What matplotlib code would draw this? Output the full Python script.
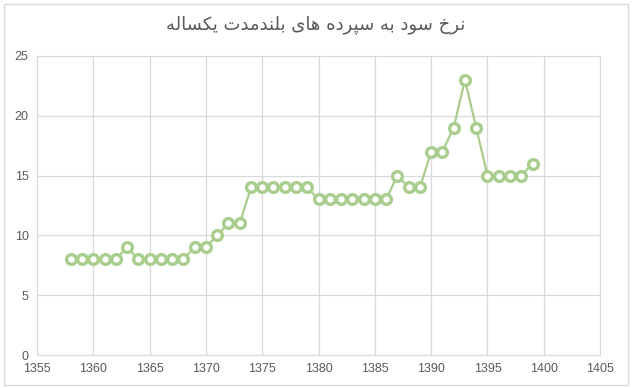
import matplotlib
matplotlib.use("Agg")
import matplotlib.pyplot as plt
from matplotlib.patches import Rectangle

years = list(range(1358, 1400))
rates = [8, 8, 8, 8, 8, 9, 8, 8, 8, 8, 8, 9, 9, 10, 11, 11, 14, 14, 14, 14,
         14, 14, 13, 13, 13, 13, 13, 13, 13, 15, 14, 14, 17, 17, 19, 23, 19,
         15, 15, 15, 15, 16]
x_ticks = list(range(1355, 1406, 5))
y_ticks = list(range(0, 26, 5))
title = "نرخ سود به سپرده های بلندمدت یکساله"

# arabic presentation forms: isolated, final, initial, medial
FORMS = {
    'ن': ('\uFEE5', '\uFEE6', '\uFEE7', '\uFEE8'),
    'ر': ('\uFEAD', '\uFEAE'),
    'خ': ('\uFEA5', '\uFEA6', '\uFEA7', '\uFEA8'),
    'س': ('\uFEB1', '\uFEB2', '\uFEB3', '\uFEB4'),
    'و': ('\uFEED', '\uFEEE'),
    'د': ('\uFEA9', '\uFEAA'),
    'ب': ('\uFE8F', '\uFE90', '\uFE91', '\uFE92'),
    'ه': ('\uFEE9', '\uFEEA', '\uFEEB', '\uFEEC'),
    'پ': ('\uFB56', '\uFB57', '\uFB58', '\uFB59'),
    'ا': ('\uFE8D', '\uFE8E'),
    'ی': ('\uFBFC', '\uFBFD', '\uFBFE', '\uFBFF'),
    'ل': ('\uFEDD', '\uFEDE', '\uFEDF', '\uFEE0'),
    'م': ('\uFEE1', '\uFEE2', '\uFEE3', '\uFEE4'),
    'ت': ('\uFE95', '\uFE96', '\uFE97', '\uFE98'),
    'ک': ('\uFB8E', '\uFB8F', '\uFB90', '\uFB91'),
}


def shape(text):
    out = []
    for i, ch in enumerate(text):
        if ch not in FORMS:
            out.append(ch)
            continue
        prev = text[i - 1] if i > 0 else ' '
        nxt = text[i + 1] if i + 1 < len(text) else ' '
        joins_prev = prev in FORMS and len(FORMS[prev]) == 4
        joins_next = len(FORMS[ch]) == 4 and nxt in FORMS
        f = FORMS[ch]
        if joins_prev and joins_next:
            out.append(f[3])
        elif joins_prev:
            out.append(f[1])
        elif joins_next:
            out.append(f[2])
        else:
            out.append(f[0])
    return ''.join(out)[::-1]


fig = plt.figure(figsize=(6.32, 3.88), dpi=100)
fig.patches.append(Rectangle((0.006, 0.008), 0.988, 0.982, transform=fig.transFigure,
                             fill=False, edgecolor='#D9D9D9', linewidth=1))
ax = fig.add_axes([0.0585, 0.085, 0.891, 0.771])

ax.plot(years, rates, color='#A9CD8C', linewidth=1.6, marker='o', markersize=7,
        markerfacecolor='white', markeredgecolor='#A9CD8C', markeredgewidth=2.4, zorder=3)

ax.set_xlim(1355, 1405)
ax.set_ylim(0, 25)
ax.set_xticks(x_ticks)
ax.set_yticks(y_ticks)
ax.grid(True, color='#D9D9D9', linewidth=0.9)
for s in ax.spines.values():
    s.set_color('#D9D9D9')
ax.tick_params(length=0, labelsize=9, colors='#595959', pad=6)
for lbl in ax.get_xticklabels() + ax.get_yticklabels():
    lbl.set_family('Liberation Sans')

fig.text(0.5, 0.937, shape(title), ha='center', va='center', fontsize=13,
         color='#595959', family='DejaVu Sans')

plt.savefig('out.png', dpi=100)
